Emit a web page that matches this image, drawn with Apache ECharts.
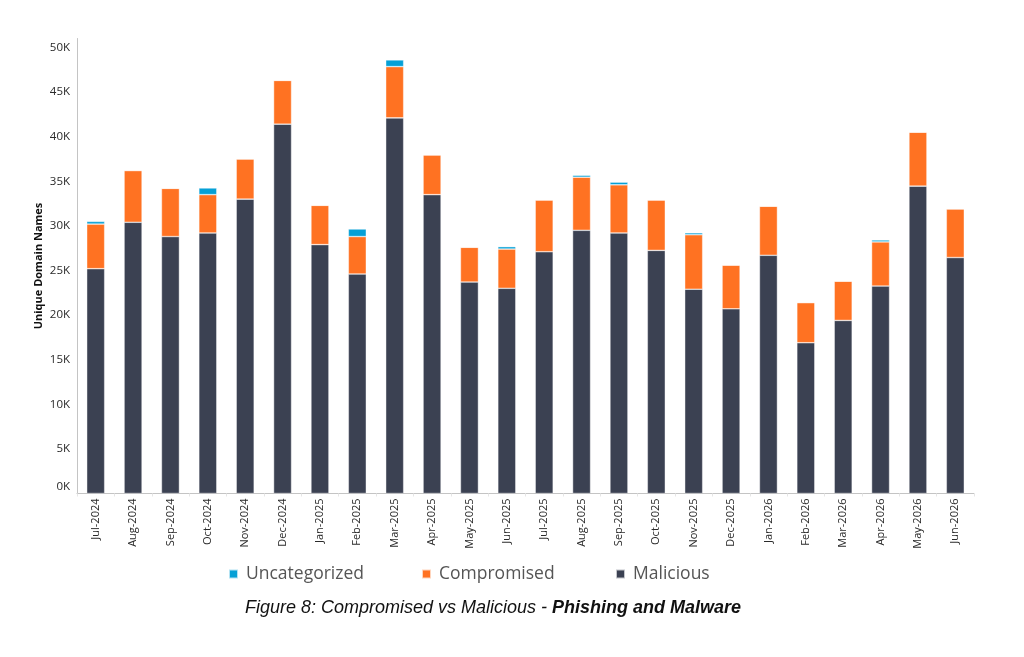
<!DOCTYPE html>
<html>
<head>
<meta charset="utf-8">
<script src="https://cdn.jsdelivr.net/npm/echarts@6/dist/echarts.min.js"></script>
<style>
  html, body { margin: 0; padding: 0; background: #fff; }
  #main { width: 1024px; height: 657px; }
</style>
</head>
<body>
<div id="main"></div>
<script>
// 月份
var months = ['Jul-2024', 'Aug-2024', 'Sep-2024', 'Oct-2024', 'Nov-2024', 'Dec-2024',
    'Jan-2025', 'Feb-2025', 'Mar-2025', 'Apr-2025', 'May-2025', 'Jun-2025',
    'Jul-2025', 'Aug-2025', 'Sep-2025', 'Oct-2025', 'Nov-2025', 'Dec-2025',
    'Jan-2026', 'Feb-2026', 'Mar-2026', 'Apr-2026', 'May-2026', 'Jun-2026'];

// 各类域名数量
var malicious = [25200, 30400, 28800, 29200, 33000, 41400, 27900, 24600, 42100, 33500, 23700, 23000,
    27100, 29500, 29200, 27250, 22900, 20700, 26700, 16900, 19400, 23250, 34450, 26450];
var compromised = [5000, 5800, 5400, 4300, 4500, 4900, 4400, 4200, 5750, 4450, 3900, 4400,
    5800, 5950, 5400, 5650, 6100, 4900, 5500, 4500, 4400, 4950, 6050, 5450];
var uncategorized = [300, 0, 0, 750, 0, 0, 0, 850, 750, 0, 0, 270,
    0, 220, 300, 0, 220, 0, 0, 0, 0, 220, 0, 0];

var colors = {
    Uncategorized: '#06a0d6',
    Compromised: '#ff7222',
    Malicious: '#3b4152'
};

var chart = echarts.init(document.getElementById('main'));

// 图例：每项固定列宽
function legendAt(name, left) {
    return {
        data: [name],
        left: left,
        top: 560,
        icon: 'rect',
        itemWidth: 9,
        itemHeight: 9,
        itemGap: 0,
        selectedMode: false,
        textStyle: {
            fontFamily: 'Open Sans',
            fontSize: 17.5,
            color: '#555',
            padding: [0, 0, 0, 3]
        }
    };
}

function barSeries(name, data) {
    return {
        name: name,
        type: 'bar',
        stack: 'total',
        barWidth: 18,
        data: data,
        itemStyle: {
            color: colors[name],
            borderColor: 'rgba(255,255,255,0.7)',
            borderWidth: 0.6
        }
    };
}

var option = {
    animation: false,
    textStyle: { fontFamily: 'Open Sans' },
    title: {
        left: 240,
        top: 594,
        text: '{a|Figure 8: Compromised vs Malicious - }{b|Phishing and Malware}',
        textStyle: {
            fontWeight: 'normal',
            rich: {
                a: { fontFamily: 'Liberation Sans', fontStyle: 'italic', fontWeight: 'normal', fontSize: 18, color: '#111' },
                b: { fontFamily: 'Liberation Sans', fontStyle: 'italic', fontWeight: 'bold', fontSize: 18, color: '#111' }
            }
        }
    },
    legend: [
        legendAt('Uncategorized', 223),
        legendAt('Compromised', 416),
        legendAt('Malicious', 610)
    ],
    grid: {
        left: 77,
        right: 50,
        top: 38.5,
        bottom: 163.5
    },
    xAxis: {
        type: 'category',
        data: months,
        axisLine: { lineStyle: { color: '#c4c4c4' } },
        axisTick: { show: true, length: 3, lineStyle: { color: '#e6e6e6' } },
        axisLabel: {
            rotate: 90,
            margin: 5,
            fontSize: 11,
            color: '#2a2a2a',
            interval: 0
        }
    },
    yAxis: {
        type: 'value',
        min: 0,
        max: 51000,
        interval: 5000,
        name: 'Unique Domain Names',
        nameLocation: 'middle',
        nameGap: 33,
        nameMoveOverlap: false,
        nameTextStyle: { fontSize: 11, fontWeight: 'bold', color: '#111' },
        axisLine: { show: true, lineStyle: { color: '#c4c4c4' } },
        axisTick: { show: false },
        splitLine: { show: false },
        axisLabel: {
            margin: 7,
            fontSize: 11.5,
            color: '#2a2a2a',
            formatter: function (v) {
                if (v % 5000 !== 0) return '';
                if (v === 0) return '{z|0K}';
                return v / 1000 + 'K';
            },
            rich: {
                z: { fontSize: 11.5, color: '#2a2a2a', padding: [0, 0, 14, 0] }
            }
        }
    },
    series: [
        barSeries('Malicious', malicious),
        barSeries('Compromised', compromised),
        barSeries('Uncategorized', uncategorized)
    ]
};

chart.setOption(option);
</script>
</body>
</html>
